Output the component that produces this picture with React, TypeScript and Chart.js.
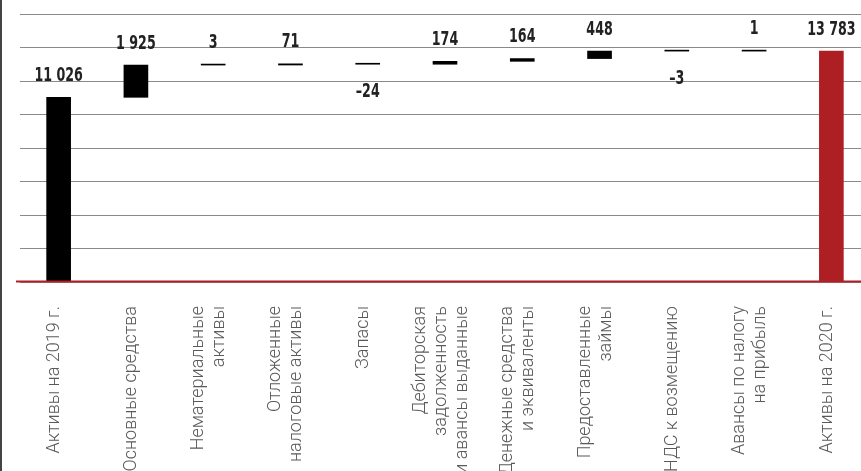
import React, { useEffect, useRef } from "react";
import Chart from "chart.js/auto";

const categories: string[][] = [
  ["Активы на 2019 г."],
  ["Основные средства"],
  ["Нематериальные", "активы"],
  ["Отложенные", "налоговые активы"],
  ["Запасы"],
  ["Дебиторская", "задолженность", "и авансы выданные"],
  ["Денежные средства", "и эквиваленты"],
  ["Предоставленные", "займы"],
  ["НДС к возмещению"],
  ["Авансы по налогу", "на прибыль"],
  ["Активы на 2020 г."],
];
const changes: number[] = [11026, 1925, 3, 71, -24, 174, 164, 448, -3, 1, 13783];
const isTotal: boolean[] = [true, false, false, false, false, false, false, false, false, false, true];
const yTicks: number[] = [0, 2000, 4000, 6000, 8000, 10000, 12000, 14000, 16000];

const fmt = (v: number) => {
  const s = Math.abs(v).toString().replace(/\B(?=(\d{3})+(?!\d))/g, " ");
  return v < 0 ? "–" + s : s;
};

export default function App() {
  const ref = useRef<HTMLCanvasElement | null>(null);
  useEffect(() => {
    if (!ref.current) return;
    let cum = 0;
    const floating: [number, number][] = changes.map((d, i) => {
      if (isTotal[i]) {
        cum = d;
        return [0, d];
      }
      const r: [number, number] = [cum, cum + d];
      cum += d;
      return r;
    });
    const last = changes.length - 1;
    const overlay = {
      id: "overlay",
      afterDatasetsDraw(chart: any) {
        const ctx = chart.ctx;
        const area = chart.chartArea;
        const meta = chart.getDatasetMeta(0);
        ctx.save();
        // baseline
        ctx.strokeStyle = "#b22025";
        ctx.lineWidth = 2;
        ctx.beginPath();
        ctx.moveTo(16, area.bottom - 0.5);
        ctx.lineTo(chart.width, area.bottom - 0.5);
        ctx.stroke();
        // left border
        ctx.fillStyle = "#444";
        ctx.fillRect(0, 0, 2, chart.height);
        // value labels (condensed)
        ctx.fillStyle = "#222";
        ctx.font = 'bold 19px "DejaVu Sans Condensed", "Liberation Sans Narrow", sans-serif';
        ctx.textAlign = "center";
        const sx = 0.74;
        meta.data.forEach((el: any, i: number) => {
          const v = changes[i];
          const top = Math.min(el.y, el.base);
          const bottom = Math.max(el.y, el.base);
          ctx.save();
          if (v >= 0) {
            ctx.textBaseline = "alphabetic";
            ctx.translate(el.x, top - 16.5);
          } else {
            ctx.textBaseline = "top";
            ctx.translate(el.x, bottom + 18);
          }
          ctx.scale(sx, 1);
          ctx.fillText(fmt(v), 0, 0);
          ctx.restore();
        });
        // category labels
        ctx.fillStyle = "#5a5a5a";
        ctx.font = '300 18px Roboto, "Noto Sans", sans-serif';
        ctx.textAlign = "right";
        ctx.textBaseline = "middle";
        const lh = 21;
        categories.forEach((lines, i) => {
          const x = chart.scales.x.getPixelForValue(i) - 4;
          lines.forEach((line, j) => {
            ctx.save();
            ctx.translate(x + (j - (lines.length - 1) / 2) * lh, area.bottom + 24);
            ctx.rotate(-Math.PI / 2);
            ctx.fillText(line, 0, 0);
            ctx.restore();
          });
        });
        ctx.restore();
      },
    };
    const chart = new Chart(ref.current, {
      type: "bar",
      data: {
        labels: categories.map((c) => c.join(" ")),
        datasets: [
          {
            data: floating as any,
            backgroundColor: changes.map((_, i) => (i === last ? "#ae1f23" : "#000000")),
            barThickness: 24,
            minBarLength: 1,
            borderWidth: 0,
          },
        ],
      },
      options: {
        responsive: false,
        animation: false,
        layout: { padding: { top: 14, left: 20, right: 0, bottom: 0 } },
        plugins: { legend: { display: false }, tooltip: { enabled: false } },
        scales: {
          x: {
            grid: { display: false },
            border: { display: false },
            ticks: { display: false },
            afterFit: (s: any) => {
              s.height = 200;
            },
          },
          y: {
            min: yTicks[0],
            max: yTicks[yTicks.length - 1],
            afterBuildTicks: (s: any) => {
              s.ticks = yTicks.map((v) => ({ value: v }));
            },
            grid: { color: "#8a8a8a", lineWidth: 1, drawTicks: false },
            border: { display: false },
            ticks: { display: false },
            afterFit: (s: any) => {
              s.width = 0;
            },
          },
        },
      },
      plugins: [overlay],
    });
    return () => chart.destroy();
  }, []);
  return (
    <div style={{ position: "absolute", left: 0, top: 0, width: 861, height: 471, overflow: "hidden", background: "#fff" }}>
      <canvas ref={ref} width={870} height={482} style={{ width: 870, height: 482, display: "block" }} />
    </div>
  );
}
